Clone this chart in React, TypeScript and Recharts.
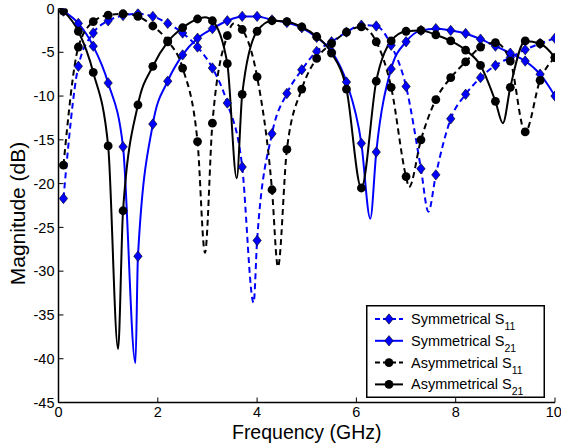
import React from 'react'
import { LineChart, Line, XAxis, YAxis, Legend } from 'recharts'

// marker frequencies (GHz)
const FREQ = [0.1, 0.4, 0.7, 1.0, 1.3, 1.6, 1.9, 2.2, 2.5, 2.8, 3.1, 3.4, 3.7, 4.0, 4.3, 4.6, 4.9, 5.2, 5.5, 5.8, 6.1, 6.4, 6.7, 7.0, 7.3, 7.6, 7.9, 8.2, 8.5, 8.8, 9.1, 9.4, 9.7, 10.0]

// magnitudes (dB) at the markers
const SYM_S11 = [-21.7, -6.6, -2.8, -1.4, -0.8, -0.6, -0.9, -1.7, -2.8, -4.4, -6.8, -10.8, -18.1, -26.5, -14.3, -9.7, -7.0, -4.9, -3.8, -2.7, -1.9, -2.0, -4.2, -8.9, -18.3, -19.0, -12.6, -9.8, -7.9, -6.5, -5.6, -4.7, -4.0, -3.4]
const SYM_S21 = [-0.3, -1.7, -4.3, -8.5, -15.8, -28.3, -13.2, -8.3, -5.3, -3.4, -2.3, -1.4, -0.9, -0.9, -1.3, -1.6, -2.2, -3.3, -4.9, -8.4, -15.4, -16.4, -6.9, -3.8, -2.5, -2.3, -2.5, -2.85, -3.5, -4.3, -5.1, -6.0, -7.5, -10.0]
const ASYM_S11 = [-17.9, -4.4, -1.5, -0.75, -0.6, -0.9, -2.0, -3.7, -6.8, -15.2, -13.1, -3.1, -2.4, -7.8, -20.7, -16.1, -9.2, -5.7, -4.0, -2.7, -2.1, -3.8, -9.0, -19.2, -15.0, -10.4, -7.9, -6.1, -4.4, -3.9, -6.0, -14.1, -8.2, -5.6]
const ASYM_S21 = [-0.3, -2.6, -7.3, -15.7, -23.1, -11.0, -6.6, -3.8, -2.2, -1.2, -1.4, -6.3, -9.8, -2.6, -1.4, -1.5, -2.1, -3.2, -5.1, -9.2, -20.5, -8.3, -3.7, -2.6, -2.5, -3.0, -3.7, -4.75, -6.5, -10.6, -9.0, -3.7, -4.0, -5.6]

// unmarked points where a trace turns between two markers [freq, dB]
const SYM_S11_TURNS = [[3.93, -33.6], [7.45, -23.2]]
const SYM_S21_TURNS = [[1.55, -40.5], [6.28, -24.0]]
const ASYM_S11_TURNS = [[2.95, -27.9], [3.53, -1.7], [4.42, -29.5], [7.06, -20.4]]
const ASYM_S21_TURNS = [[1.2, -38.9], [2.95, -1.0], [3.59, -19.4], [8.95, -13.1]]

const X_TICKS = [0, 2, 4, 6, 8, 10]
const Y_TICKS = [0, -5, -10, -15, -20, -25, -30, -35, -40, -45]

const FONT = '"Liberation Sans", Arial, Helvetica, sans-serif'
const BLUE = '#0000ff'

function buildTrace(values: number[], turns: number[][]) {
  const pts = FREQ.map((f, i) => ({ f, v: values[i], marker: true }))
  turns.forEach(([f, v]) => pts.push({ f, v, marker: false }))
  return pts.sort((a, b) => a.f - b.f)
}

const Diamond = ({ cx, cy }: { cx: number; cy: number }) => (
  <polygon
    points={`${cx},${cy - 5.2} ${cx + 4.2},${cy} ${cx},${cy + 5.2} ${cx - 4.2},${cy}`}
    fill={BLUE}
    stroke="#000"
    strokeWidth={0.6}
    strokeDasharray="none"
  />
)

const diamondDot = (props: any) => {
  const { cx, cy, payload, index } = props
  if (!payload.marker) return <g key={index} />
  return <g key={index}><Diamond cx={cx} cy={cy} /></g>
}

const circleDot = (props: any) => {
  const { cx, cy, payload, index } = props
  if (!payload.marker) return <g key={index} />
  return <circle key={index} cx={cx} cy={cy} r={4.4} fill="#000" stroke="none" />
}

// y title sits left of the tick labels, a bit below the plot's middle
const YTitle = (props: any) => {
  const vb = props.viewBox || { x: 0, y: 8.5, width: 58.5, height: 394 }
  const x = vb.x + 17.5
  const y = vb.y + vb.height / 2 + 8
  return (
    <text
      x={x}
      y={y}
      transform={`rotate(-90 ${x} ${y})`}
      textAnchor="middle"
      dominantBaseline="central"
      fontSize={21}
      fontFamily={FONT}
      fill="#000"
    >
      Magnitude (dB)
    </text>
  )
}

const LEGEND_ROWS = [
  { name: 'Symmetrical S', sub: '11', color: BLUE, dash: '5 3', shape: 'diamond' },
  { name: 'Symmetrical S', sub: '21', color: BLUE, dash: undefined, shape: 'diamond' },
  { name: 'Asymmetrical S', sub: '11', color: '#000', dash: '5 3', shape: 'circle' },
  { name: 'Asymmetrical S', sub: '21', color: '#000', dash: undefined, shape: 'circle' },
]

function renderLegend() {
  return (
    <svg width={179} height={93} style={{ display: 'block' }}>
      <rect x={0.75} y={0.75} width={177.5} height={91.5} fill="#fff" stroke="#000" strokeWidth={1.5} />
      {LEGEND_ROWS.map((r, i) => {
        const y = 14 + i * 21.8
        return (
          <g key={i}>
            <line x1={9} x2={37} y1={y} y2={y} stroke={r.color} strokeWidth={2} strokeDasharray={r.dash} />
            {r.shape === 'diamond' ? (
              <Diamond cx={23} cy={y} />
            ) : (
              <circle cx={23} cy={y} r={4.4} fill="#000" />
            )}
            <text x={45} y={y + 5} fontSize={14.5} fontFamily={FONT} fill="#000">
              {r.name}
              <tspan fontSize={10.5} dy={6}>{r.sub}</tspan>
            </text>
          </g>
        )
      })}
    </svg>
  )
}

export default function App() {
  const tickStyle = { fill: '#000', fontSize: 14.5, fontFamily: FONT }
  return (
    <div style={{ position: 'absolute', left: 0, top: 0, width: 561, height: 448, background: '#fff' }}>
      <LineChart width={561} height={448} margin={{ top: 8.5, right: 6, bottom: 0, left: 0 }}>
        <XAxis
          dataKey="f"
          type="number"
          domain={[0, 10]}
          ticks={X_TICKS}
          height={45.5}
          tickSize={-5}
          tickMargin={9.5}
          tick={tickStyle}
          axisLine={{ stroke: '#000', strokeWidth: 1.5 }}
          tickLine={{ stroke: '#000', strokeWidth: 1 }}
          allowDataOverflow
          label={{ value: 'Frequency (GHz)', position: 'insideBottom', offset: 9, fill: '#000', fontSize: 19.5, fontFamily: FONT }}
        />
        <XAxis
          xAxisId="top"
          orientation="top"
          type="number"
          domain={[0, 10]}
          ticks={X_TICKS}
          height={0}
          tickSize={-5}
          tick={false}
          axisLine={{ stroke: '#000', strokeWidth: 1.5 }}
          tickLine={{ stroke: '#000', strokeWidth: 1 }}
        />
        <YAxis
          type="number"
          domain={[-45, 0]}
          ticks={Y_TICKS}
          width={58.5}
          tickSize={-5}
          tickMargin={9}
          tick={tickStyle}
          axisLine={{ stroke: '#000', strokeWidth: 1.5 }}
          tickLine={{ stroke: '#000', strokeWidth: 1 }}
          allowDataOverflow
          label={<YTitle />}
        />
        <YAxis
          yAxisId="right"
          orientation="right"
          type="number"
          domain={[-45, 0]}
          ticks={Y_TICKS}
          width={0}
          tickSize={-5}
          tick={false}
          axisLine={{ stroke: '#000', strokeWidth: 1.5 }}
          tickLine={{ stroke: '#000', strokeWidth: 1 }}
        />
        <Legend
          layout="vertical"
          align="center"
          verticalAlign="middle"
          content={renderLegend}
          wrapperStyle={{ left: 366, top: 305, width: 179, height: 93 }}
        />
        <Line
          data={buildTrace(SYM_S11, SYM_S11_TURNS)}
          dataKey="v"
          name="Symmetrical S11"
          type="monotone"
          stroke={BLUE}
          strokeWidth={2}
          strokeDasharray="6 4"
          dot={diamondDot}
          activeDot={false}
          isAnimationActive={false}
        />
        <Line
          data={buildTrace(SYM_S21, SYM_S21_TURNS)}
          dataKey="v"
          name="Symmetrical S21"
          type="monotone"
          stroke={BLUE}
          strokeWidth={2}
          dot={diamondDot}
          activeDot={false}
          isAnimationActive={false}
        />
        <Line
          data={buildTrace(ASYM_S11, ASYM_S11_TURNS)}
          dataKey="v"
          name="Asymmetrical S11"
          type="monotone"
          stroke="#000"
          strokeWidth={2}
          strokeDasharray="6 4"
          dot={circleDot}
          activeDot={false}
          isAnimationActive={false}
        />
        <Line
          data={buildTrace(ASYM_S21, ASYM_S21_TURNS)}
          dataKey="v"
          name="Asymmetrical S21"
          type="monotone"
          stroke="#000"
          strokeWidth={2}
          dot={circleDot}
          activeDot={false}
          isAnimationActive={false}
        />
      </LineChart>
    </div>
  )
}
